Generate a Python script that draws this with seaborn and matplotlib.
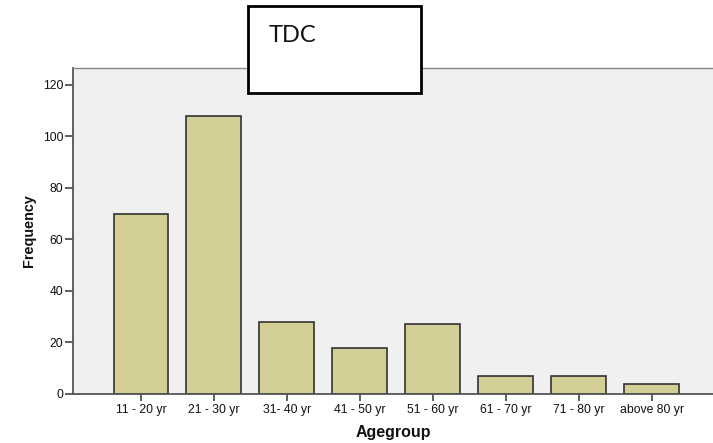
import matplotlib
matplotlib.use("Agg")
import matplotlib.pyplot as plt
import seaborn as sns
import pandas as pd
from matplotlib.patches import Rectangle

categories = ["11 - 20 yr", "21 - 30 yr", "31- 40 yr", "41 - 50 yr",
              "51 - 60 yr", "61 - 70 yr", "71 - 80 yr", "above 80 yr"]
frequency = [70, 108, 28, 18, 27, 7, 7, 4]
yticks = [0, 20, 40, 60, 80, 100, 120]

sns.set_theme(style="white")
plt.rcParams['font.family'] = ['Liberation Sans', 'DejaVu Sans']

df = pd.DataFrame({"Agegroup": categories, "Frequency": frequency})

W, H = 713, 443
fig = plt.figure(figsize=(W / 100, H / 100), dpi=100)
ax = fig.add_axes([73 / W, (H - 394) / H, (W - 73) / W, (394 - 68) / H])
ax.set_facecolor("#F0F0F0")

sns.barplot(data=df, x="Agegroup", y="Frequency", ax=ax, color="#D3CE96",
            saturation=1, width=0.75, edgecolor="#333333", linewidth=1.2)

ax.set_xlim(-0.93, 7.84)
ax.set_ylim(0, 126.6)
ax.set_yticks(yticks)
ax.set_yticklabels([str(v) for v in yticks], fontsize=8.8, color="#111111")
ax.tick_params(axis="x", labelsize=8.8, colors="#444444", length=5, width=1.2,
               direction="out", bottom=True, pad=2)
ax.tick_params(axis="y", length=6, width=1.2, direction="out", left=True,
               colors="#444444", pad=1)
for lab in ax.get_xticklabels() + ax.get_yticklabels():
    lab.set_color("#111111")

ax.set_xlabel("Agegroup", fontsize=11.5, fontweight="bold", labelpad=7, color="#111111")
ax.set_ylabel("Frequency", fontsize=10.4, fontweight="bold", labelpad=5, color="#111111")

for side in ["left", "bottom"]:
    ax.spines[side].set_color("#555555")
    ax.spines[side].set_linewidth(1.3)
ax.spines["top"].set_color("#888888")
ax.spines["top"].set_linewidth(1.0)
ax.spines["right"].set_visible(False)

# TDC title box
fig.patches.append(Rectangle((248 / W, (H - 93) / H), (421 - 248) / W, (93 - 6) / H,
                             transform=fig.transFigure, facecolor="white",
                             edgecolor="black", linewidth=2, zorder=10))
fig.text(269 / W, (H - 36) / H, "TDC", fontsize=17, family=["Lato", "DejaVu Sans"],
         va="center", ha="left", color="#111111", zorder=11)

fig.savefig("out.png", dpi=100, facecolor="white")
